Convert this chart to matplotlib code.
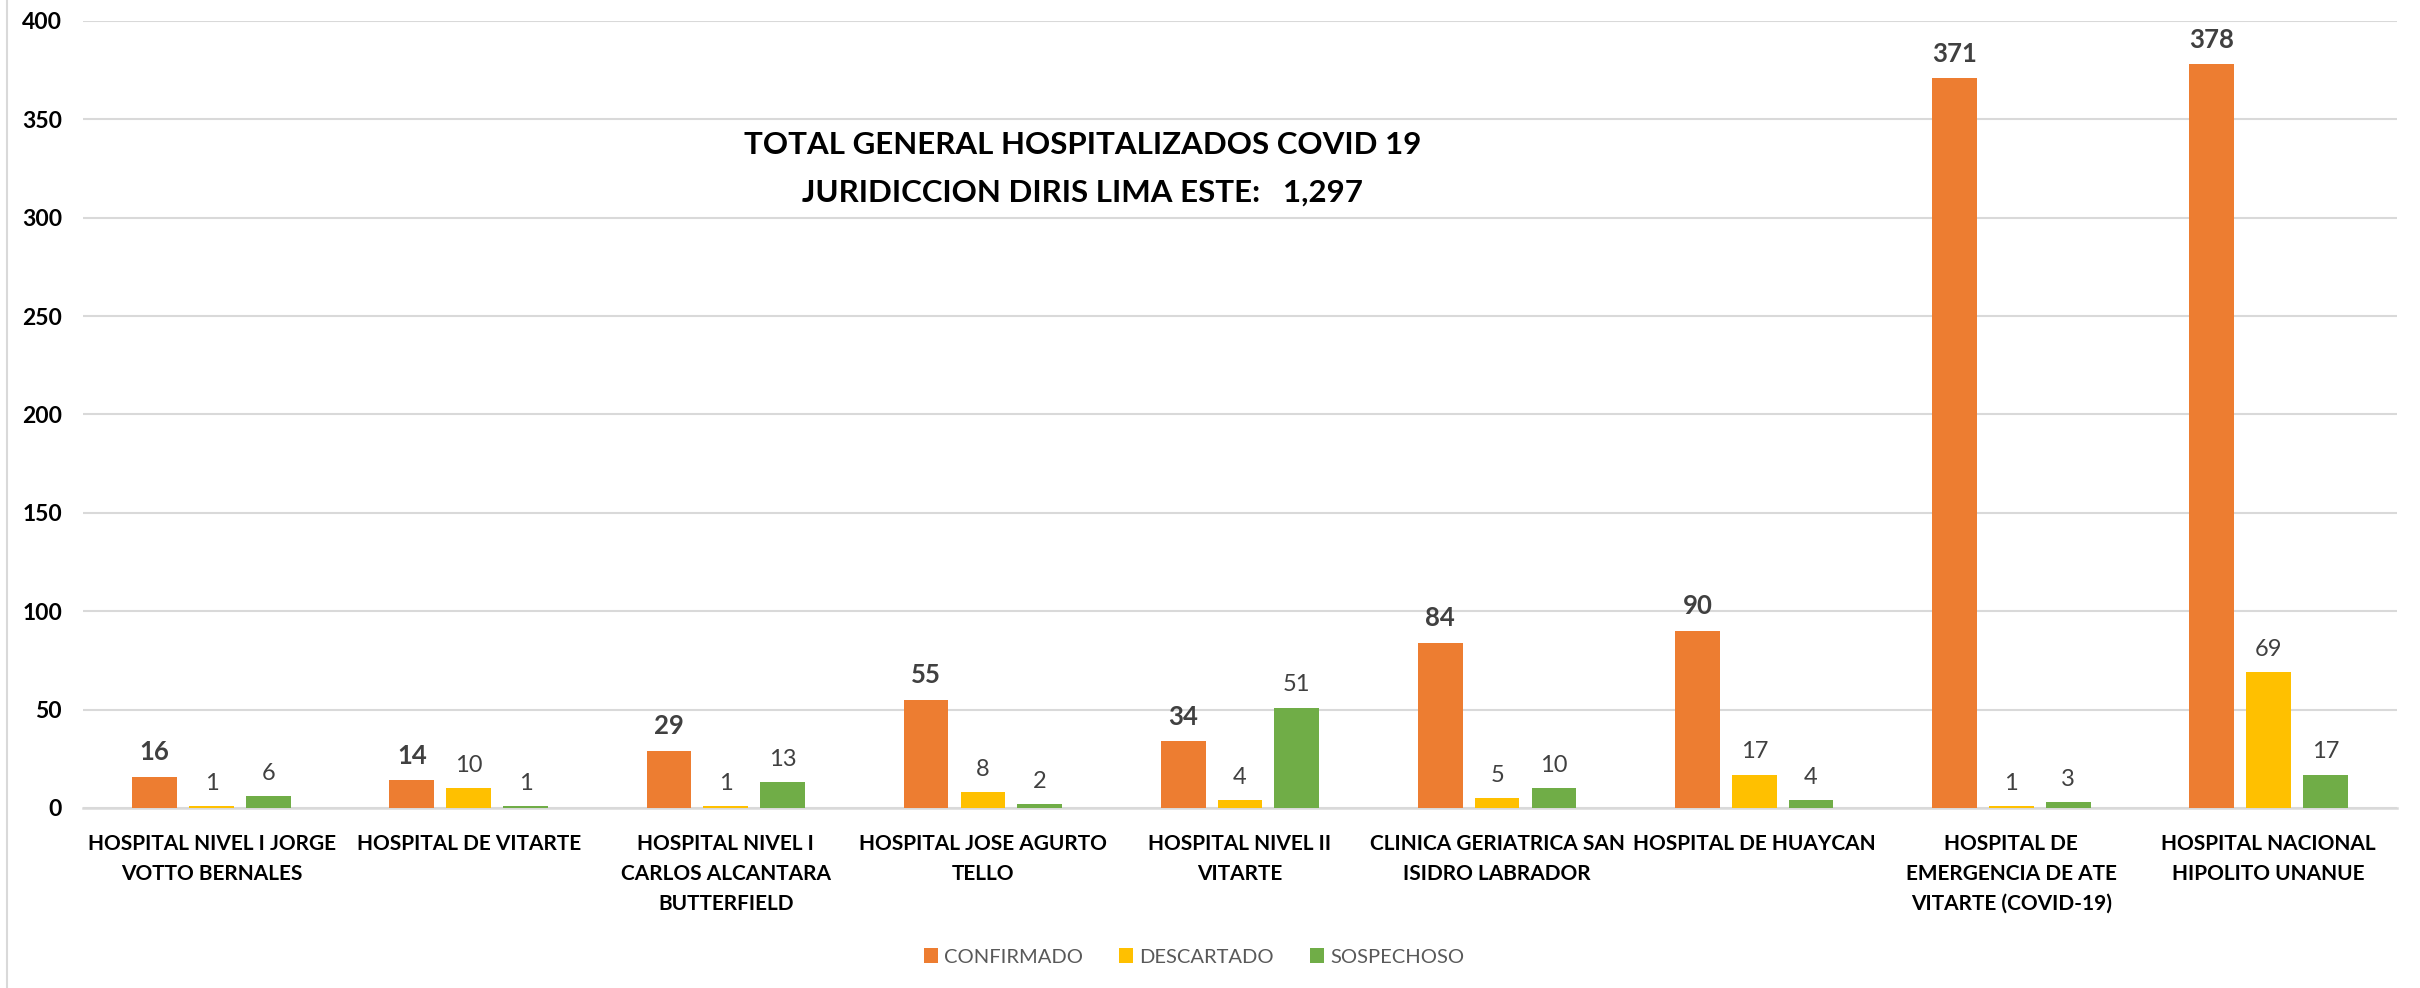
import matplotlib
matplotlib.use("Agg")
import matplotlib.pyplot as plt
import numpy as np
from matplotlib.patches import Patch
from matplotlib.lines import Line2D

plt.rcParams['font.family'] = ['Lato', 'DejaVu Sans']

categories = [
    "HOSPITAL NIVEL I JORGE\nVOTTO BERNALES",
    "HOSPITAL DE VITARTE",
    "HOSPITAL NIVEL I\nCARLOS ALCANTARA\nBUTTERFIELD",
    "HOSPITAL JOSE AGURTO\nTELLO",
    "HOSPITAL NIVEL II\nVITARTE",
    "CLINICA GERIATRICA SAN\nISIDRO LABRADOR",
    "HOSPITAL DE HUAYCAN",
    "HOSPITAL DE\nEMERGENCIA DE ATE\nVITARTE (COVID-19)",
    "HOSPITAL NACIONAL\nHIPOLITO UNANUE",
]
confirmado = [16, 14, 29, 55, 34, 84, 90, 371, 378]
descartado = [1, 10, 1, 8, 4, 5, 17, 1, 69]
sospechoso = [6, 1, 13, 2, 51, 10, 4, 3, 17]
series_names = ["CONFIRMADO", "DESCARTADO", "SOSPECHOSO"]
colors = ["#ED7D31", "#FFC000", "#70AD47"]
yticks = [0, 50, 100, 150, 200, 250, 300, 350, 400]
title_text = "TOTAL GENERAL HOSPITALIZADOS COVID 19\nJURIDICCION DIRIS LIMA ESTE:   1,297"

W, H = 2420, 988
fig = plt.figure(figsize=(W / 100, H / 100), dpi=100)
ax = fig.add_axes([83 / W, 1 - 808 / H, (2397 - 83) / W, (808 - 21) / H])

x = np.arange(len(categories))
pitch = 0.221
bw = 0.174
all_series = [confirmado, descartado, sospechoso]
for i, (vals, name, col) in enumerate(zip(all_series, series_names, colors)):
    bars = ax.bar(x + (i - 1) * pitch, vals, width=bw, color=col, label=name, zorder=3)
    if i == 0:
        ax.bar_label(bars, padding=9, fontsize=18.5, fontweight='bold', color='#404040')
    else:
        ax.bar_label(bars, padding=9, fontsize=17, color='#404040')

ax.set_xlim(-0.5, len(categories) - 0.5)
ax.set_ylim(0, 400)
ax.set_yticks(yticks)
ax.set_yticklabels([str(t) for t in yticks], fontsize=16.5, fontweight='bold', color='black')
ax.set_xticks(x)
ax.set_xticklabels(categories, fontsize=15, fontweight='bold', color='black', linespacing=1.6)
ax.tick_params(axis='both', length=0)
ax.tick_params(axis='y', pad=15)
ax.tick_params(axis='x', pad=19)

ax.grid(axis='y', color='#D9D9D9', linewidth=1.5, zorder=0)
for s in ['top', 'right', 'left']:
    ax.spines[s].set_visible(False)
ax.spines['bottom'].set_color('#D9D9D9')
ax.spines['bottom'].set_linewidth(1.8)

ax.text(0.432, 0.812, title_text, transform=ax.transAxes, ha='center', va='center',
        fontsize=22.5, fontweight='bold', color='black', linespacing=1.85)

handles = [Patch(facecolor=c, edgecolor='none') for c in colors]
fig.legend(handles, series_names, loc='center', bbox_to_anchor=(1194 / W, 1 - 957 / H),
           ncol=3, frameon=False, fontsize=14.5, labelcolor='#595959',
           handlelength=0.7, handleheight=0.7, handletextpad=0.3, columnspacing=1.8)

fig.add_artist(Line2D([7 / W, 7 / W], [0, 1], transform=fig.transFigure, color='#D9D9D9', linewidth=1.5))

fig.savefig("out.png", dpi=100, facecolor='white')
